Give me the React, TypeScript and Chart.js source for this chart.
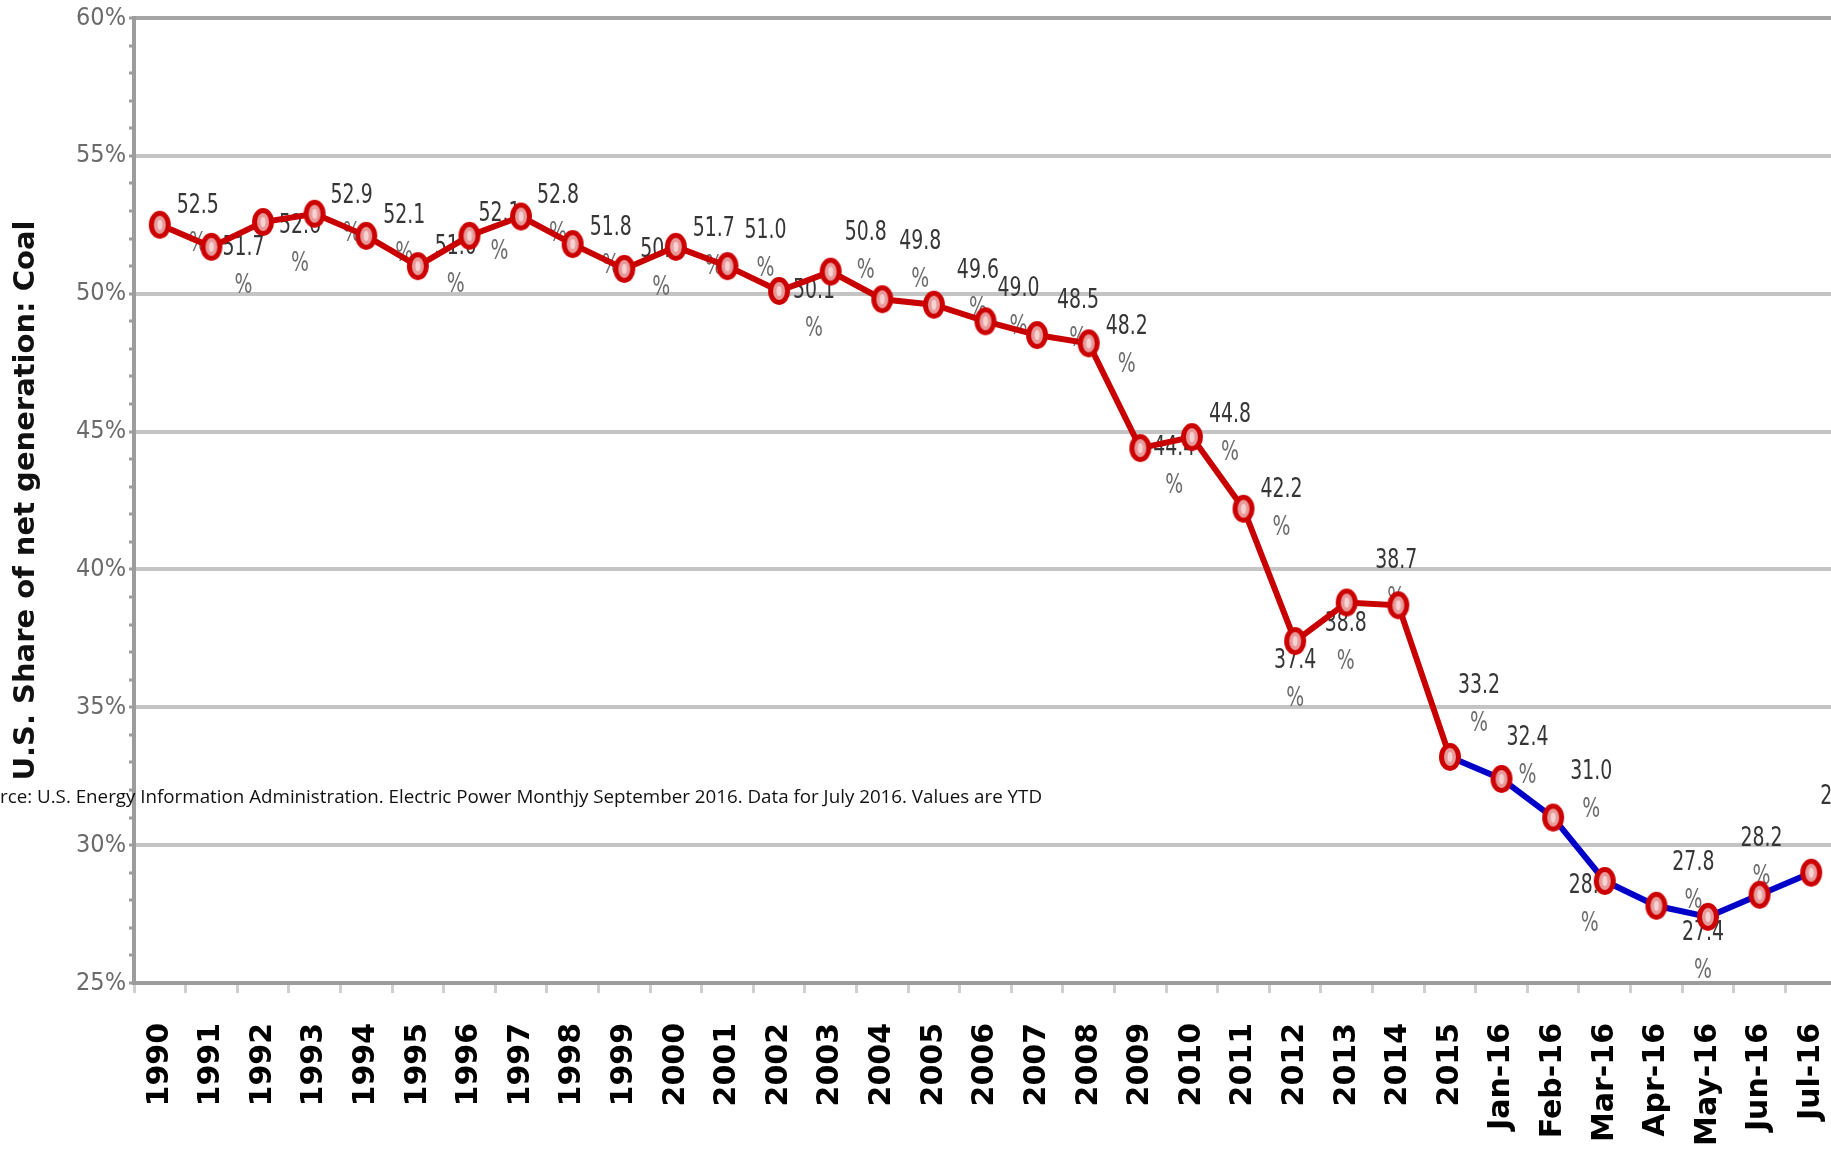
import React, { useEffect, useRef } from 'react';
import { Chart, registerables } from 'chart.js';

Chart.register(...registerables);

const categories = [
  '1990', '1991', '1992', '1993', '1994', '1995', '1996', '1997', '1998', '1999',
  '2000', '2001', '2002', '2003', '2004', '2005', '2006', '2007', '2008', '2009',
  '2010', '2011', '2012', '2013', '2014', '2015',
  'Jan-16', 'Feb-16', 'Mar-16', 'Apr-16', 'May-16', 'Jun-16', 'Jul-16',
];

const coalShare = [
  52.5, 51.7, 52.6, 52.9, 52.1, 51.0, 52.1, 52.8, 51.8, 50.9,
  51.7, 51.0, 50.1, 50.8, 49.8, 49.6, 49.0, 48.5, 48.2, 44.4,
  44.8, 42.2, 37.4, 38.8, 38.7, 33.2,
  32.4, 31.0, 28.7, 27.8, 27.4, 28.2, 29.0,
];

// index from which the line is drawn in blue (2015 onward, monthly YTD values)
const blueFromIndex = 25;

const yMin = 25;
const yMax = 60;
const yMajorStep = 5;

const yTitle = 'U.S. Share of net generation: Coal';
const sourceNote =
  'Source: U.S. Energy Information Administration. Electric Power Monthjy September 2016. Data for July 2016. Values are YTD';

// label placement relative to each point [dx, dy] (pixels)
const labelOffsets: [number, number][] = [
  [38, -19], [32, 1], [37, 4], [37, -18], [38, -20], [38, -19], [30, -22], [37, -21], [38, -16], [37, -19],
  [38, -18], [38, -35], [35, 0], [35, -39], [38, -57], [44, -34], [33, -32], [41, -34], [38, -16], [34, 0],
  [38, -22], [38, -19], [0, 20], [-1, 21], [-2, -44], [29, -71],
  [26, -41], [38, -46], [-15, 5], [37, -43], [-5, 16], [2, -56], [30, -76],
];

const RED = '#c80000';
const BLUE = '#0000c8';

function makePointImage(): HTMLCanvasElement {
  const c = document.createElement('canvas');
  c.width = 24;
  c.height = 30;
  const g = c.getContext('2d')!;
  g.beginPath();
  g.ellipse(12, 15, 8.5, 11.5, 0, 0, Math.PI * 2);
  g.fillStyle = '#e89a9a';
  g.fill();
  g.lineWidth = 5;
  g.strokeStyle = '#cc0000';
  g.stroke();
  g.beginPath();
  g.ellipse(12, 15, 2.5, 5, 0, 0, Math.PI * 2);
  g.fillStyle = '#f6d2d2';
  g.fill();
  return c;
}

const labelPlugin = {
  id: 'valueLabels',
  beforeDatasetsDraw(chart: any) {
    const meta = chart.getDatasetMeta(0);
    const ctx = chart.ctx as CanvasRenderingContext2D;
    ctx.save();
    ctx.textAlign = 'center';
    ctx.textBaseline = 'middle';
    ctx.font = '21px "DejaVu Sans Condensed"';
    meta.data.forEach((pt: any, i: number) => {
      const [dx, dy] = labelOffsets[i] || [36, -18];
      const x = pt.x + dx;
      const y = pt.y + dy;
      ctx.save();
      ctx.translate(x, y);
      ctx.scale(1, 1.3);
      ctx.fillStyle = '#363636';
      ctx.fillText(coalShare[i].toFixed(1), 0, 0);
      ctx.restore();
      ctx.save();
      ctx.translate(x, y + 38);
      ctx.scale(1, 1.3);
      ctx.fillStyle = '#6c6c6c';
      ctx.fillText('%', 0, 0);
      ctx.restore();
    });
    ctx.restore();
  },
};

const sourcePlugin = {
  id: 'sourceNote',
  afterDraw(chart: any) {
    const ctx = chart.ctx as CanvasRenderingContext2D;
    ctx.save();
    ctx.font = '19px "Open Sans"';
    const visible = sourceNote.slice(3);
    const w = ctx.measureText(visible).width;
    const sx = 1042 / w;
    ctx.translate(1042, 798);
    ctx.scale(sx, 1);
    ctx.textAlign = 'right';
    ctx.textBaseline = 'middle';
    ctx.fillStyle = '#111111';
    ctx.fillText(sourceNote, 0, 0);
    ctx.restore();
  },
};

export default function App() {
  const ref = useRef<HTMLCanvasElement | null>(null);

  useEffect(() => {
    if (!ref.current) return;
    const pointImg = makePointImage();
    const chart = new Chart(ref.current, {
      type: 'line',
      data: {
        labels: categories,
        datasets: [
          {
            data: coalShare,
            borderColor: RED,
            borderWidth: 6,
            pointStyle: pointImg as any,
            pointRadius: 9,
            tension: 0,
            fill: false,
            segment: {
              borderColor: (c: any) => (c.p0DataIndex >= blueFromIndex ? BLUE : RED),
            },
          },
        ],
      },
      options: {
        animation: false,
        responsive: false,
        devicePixelRatio: 1,
        layout: { padding: { top: 18, right: 4, bottom: 0, left: 0 } },
        plugins: {
          legend: { display: false },
          tooltip: { enabled: false },
          title: { display: false },
        },
        scales: {
          x: {
            type: 'category',
            offset: true,
            grid: {
              display: true,
              drawOnChartArea: false,
              drawTicks: true,
              tickLength: 10,
              offset: true,
              color: '#cfcfcf',
              lineWidth: 3,
            },
            border: { display: true, color: '#9c9c9c', width: 4 },
            ticks: {
              autoSkip: false,
              maxRotation: 90,
              minRotation: 90,
              padding: 30,
              color: '#000000',
              font: { family: 'DejaVu Sans', size: 30, weight: 'bold' },
            },
            afterFit: (s: any) => {
              s.height = 1157 - 983;
              s.paddingLeft = 0;
              s.paddingRight = 0;
            },
          },
          y: {
            min: yMin,
            max: yMax,
            ticks: {
              stepSize: 1,
              autoSkip: false,
              padding: 3,
              color: '#6b6b6b',
              font: { family: 'DejaVu Sans Condensed', size: 25 },
              callback: (v: any) => (Number(v) % yMajorStep === 0 ? `${v}%` : ''),
            },
            grid: {
              drawTicks: true,
              tickLength: 5,
              tickWidth: 3,
              tickColor: '#9c9c9c',
              color: (c: any) => {
                const v = c.tick?.value;
                if (v === undefined || v % yMajorStep !== 0) return 'rgba(0,0,0,0)';
                return v === yMax ? '#a6a6a6' : '#c4c4c4';
              },
              lineWidth: (c: any) => {
                const v = c.tick?.value;
                return v !== undefined && v % yMajorStep === 0 ? 4 : 0;
              },
            },
            border: { display: true, color: '#9c9c9c', width: 4 },
            title: {
              display: true,
              text: yTitle,
              color: '#111111',
              font: { family: 'DejaVu Sans', size: 29, weight: 'bold' },
              padding: { top: 9, bottom: 0 },
            },
            afterFit: (s: any) => {
              s.width = 134;
              s.paddingTop = 0;
              s.paddingBottom = 0;
            },
          },
        },
      },
      plugins: [labelPlugin, sourcePlugin],
    });
    return () => chart.destroy();
  }, []);

  return (
    <div
      style={{
        position: 'fixed',
        left: 0,
        top: 0,
        width: 1831,
        height: 1157,
        overflow: 'hidden',
        background: '#ffffff',
      }}
    >
      <canvas ref={ref} width={1852} height={1157} style={{ display: 'block' }} />
    </div>
  );
}
